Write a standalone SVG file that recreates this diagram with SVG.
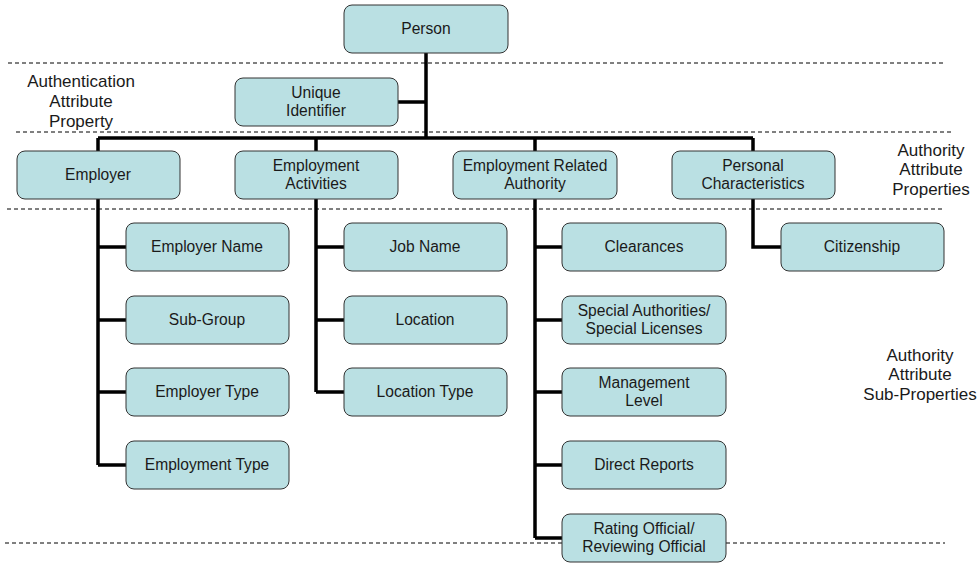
<svg xmlns="http://www.w3.org/2000/svg" width="977" height="563" viewBox="0 0 977 563">
<style>
.box{fill:#bae0e3;stroke:#333;stroke-width:1}
.t{font-family:"Liberation Sans",Arial,sans-serif;font-size:15.6px;fill:#1a1a1a;text-anchor:middle}
.lbl{font-family:"Liberation Sans",Arial,sans-serif;font-size:17px;fill:#1a1a1a;text-anchor:middle}
.c{stroke:#000;stroke-width:3.5;fill:none}
.d{stroke:#000;stroke-width:1;stroke-dasharray:4 3}
</style>
<rect width="977" height="563" fill="#fff"/>
<g id="separators">
<line class="d" x1="8" y1="63" x2="945" y2="63"/>
<line class="d" x1="16" y1="132" x2="953" y2="132"/>
<line class="d" x1="7" y1="209" x2="945" y2="209"/>
<line class="d" x1="5" y1="543" x2="945" y2="543"/>
</g>
<g id="labels">
<text class="lbl" x="81" y="87">Authentication</text>
<text class="lbl" x="81" y="107">Attribute</text>
<text class="lbl" x="81" y="127">Property</text>
<text class="lbl" x="931" y="156">Authority</text>
<text class="lbl" x="931" y="175">Attribute</text>
<text class="lbl" x="931" y="195">Properties</text>
<text class="lbl" x="920" y="361">Authority</text>
<text class="lbl" x="920" y="380">Attribute</text>
<text class="lbl" x="920" y="400">Sub-Properties</text>
</g>
<g id="connectors">
<path class="c" d="M426 53 V138 M398 102 H426 M98 138 H753 M98 138 V151 M316 138 V151 M535 138 V151 M753 138 V151"/>
<path class="c" d="M98 199 V465 M98 247 H126 M98 320 H126 M98 392 H126 M98 465 H126"/>
<path class="c" d="M316 199 V392 M316 247 H344 M316 320 H344 M316 392 H344"/>
<path class="c" d="M535 199 V538 M535 247 H562 M535 320 H562 M535 392 H562 M535 465 H562 M535 538 H562"/>
<path class="c" d="M753 199 V247 H781"/>
</g>
<g id="person"><rect class="box" x="344" y="5" width="164" height="48" rx="8"/><text class="t" x="426" y="34">Person</text></g>
<g id="unique-identifier"><rect class="box" x="235" y="78" width="163" height="48" rx="8"/><text class="t" x="316" y="98">Unique</text><text class="t" x="316" y="116">Identifier</text></g>
<g id="employer"><rect class="box" x="17" y="151" width="163" height="48" rx="8"/><text class="t" x="98" y="180">Employer</text></g>
<g id="employment-activities"><rect class="box" x="235" y="151" width="163" height="48" rx="8"/><text class="t" x="316" y="171">Employment</text><text class="t" x="316" y="189">Activities</text></g>
<g id="employment-related-authority"><rect class="box" x="453" y="151" width="164" height="48" rx="8"/><text class="t" x="535" y="171">Employment Related</text><text class="t" x="535" y="189">Authority</text></g>
<g id="personal-characteristics"><rect class="box" x="672" y="151" width="163" height="48" rx="8"/><text class="t" x="753" y="171">Personal</text><text class="t" x="753" y="189">Characteristics</text></g>
<g id="employer-name"><rect class="box" x="126" y="223" width="163" height="48" rx="8"/><text class="t" x="207" y="252">Employer Name</text></g>
<g id="sub-group"><rect class="box" x="126" y="296" width="163" height="48" rx="8"/><text class="t" x="207" y="325">Sub-Group</text></g>
<g id="employer-type"><rect class="box" x="126" y="368" width="163" height="48" rx="8"/><text class="t" x="207" y="397">Employer Type</text></g>
<g id="employment-type"><rect class="box" x="126" y="441" width="163" height="48" rx="8"/><text class="t" x="207" y="470">Employment Type</text></g>
<g id="job-name"><rect class="box" x="344" y="223" width="163" height="48" rx="8"/><text class="t" x="425" y="252">Job Name</text></g>
<g id="location"><rect class="box" x="344" y="296" width="163" height="48" rx="8"/><text class="t" x="425" y="325">Location</text></g>
<g id="location-type"><rect class="box" x="344" y="368" width="163" height="48" rx="8"/><text class="t" x="425" y="397">Location Type</text></g>
<g id="clearances"><rect class="box" x="562" y="223" width="164" height="48" rx="8"/><text class="t" x="644" y="252">Clearances</text></g>
<g id="special-authorities"><rect class="box" x="562" y="296" width="164" height="48" rx="8"/><text class="t" x="644" y="316">Special Authorities/</text><text class="t" x="644" y="334">Special Licenses</text></g>
<g id="management-level"><rect class="box" x="562" y="368" width="164" height="48" rx="8"/><text class="t" x="644" y="388">Management</text><text class="t" x="644" y="406">Level</text></g>
<g id="direct-reports"><rect class="box" x="562" y="441" width="164" height="48" rx="8"/><text class="t" x="644" y="470">Direct Reports</text></g>
<g id="rating-official"><rect class="box" x="562" y="514" width="164" height="48" rx="8"/><text class="t" x="644" y="534">Rating Official/</text><text class="t" x="644" y="552">Reviewing Official</text></g>
<g id="citizenship"><rect class="box" x="781" y="223" width="163" height="48" rx="8"/><text class="t" x="862" y="252">Citizenship</text></g>
</svg>
